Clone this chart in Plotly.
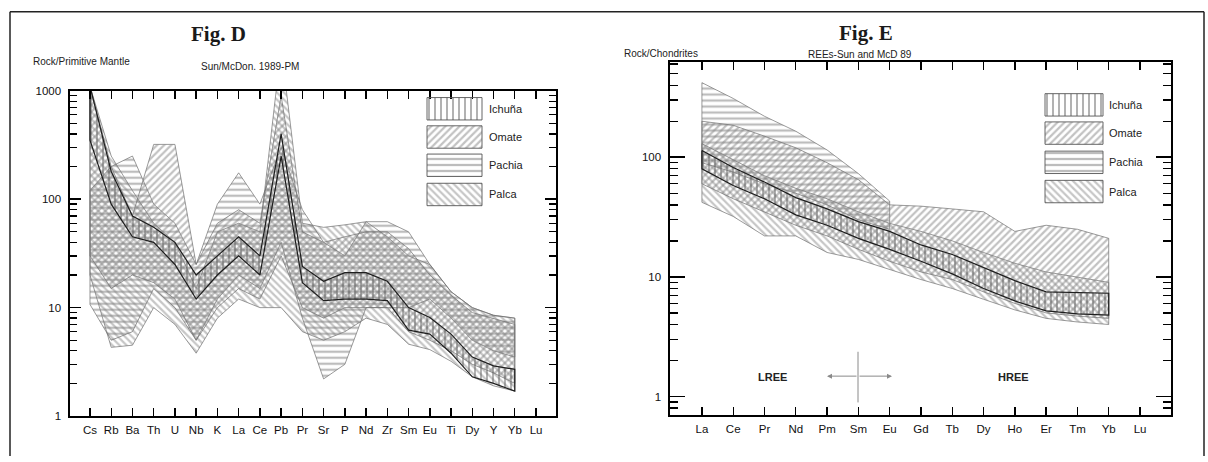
import plotly.graph_objects as go

W, H = 1208, 462

# ---------------- Fig D data: Rock / Primitive Mantle (Sun & McDonough 1989) ----------------
spider_elements = ["Cs", "Rb", "Ba", "Th", "U", "Nb", "K", "La", "Ce", "Pb", "Pr",
                   "Sr", "P", "Nd", "Zr", "Sm", "Eu", "Ti", "Dy", "Y", "Yb", "Lu"]

ichuna_d_low = [350, 90, 45, 40, 25, 12, 20, 30, 20, 250, 17, 11.6, 12, 12, 11.6, 6.2, 5.7, 3.8, 2.3, 2.0, 1.7, None]
ichuna_d_high = [1100, 180, 70, 55, 40, 20, 30, 45, 30, 400, 24, 17.5, 21, 21, 17.5, 10, 8.1, 5.7, 3.5, 2.9, 2.7, None]

omate_d_low = [30, 15, 20, 17, 12, 5, 10, 15, 12, 30, 10, 8, 10, 10, 10, 6, 5, 4, 3, 2.5, 2.0, None]
omate_d_high = [1100, 200, 70, 320, 320, 25, 60, 80, 60, 900, 50, 40, 45, 50, 50, 35, 20, 13, 9, 8, 7, None]

pachia_d_low = [10.7, 5, 6, 15, 10, 5, 12, 20, 15, 40, 8, 2.2, 3, 10, 10, 10, 12, 8, 5, 4, 3.5, None]
pachia_d_high = [120, 200, 250, 90, 60, 25, 90, 175, 90, 300, 80, 40, 30, 62, 62, 50, 25, 14, 10, 8.5, 8, None]

palca_d_low = [20, 4.3, 4.5, 10, 7, 3.8, 8, 12, 10, 10, 6, 5, 6, 8, 7, 4.6, 4.1, 3.2, 2.3, 1.9, 1.7, None]
palca_d_high = [1100, 250, 120, 60, 40, 15, 50, 60, 50, 2500, 60, 55, 58, 62, 45, 30, 25, 14, 10, 8.5, 8, None]

d_ticks = [1, 10, 100, 1000]

# ---------------- Fig E data: Rock / Chondrites (REE, Sun & McD 89) ----------------
ree_elements = ["La", "Ce", "Pr", "Nd", "Pm", "Sm", "Eu", "Gd", "Tb", "Dy", "Ho", "Er", "Tm", "Yb", "Lu"]

ichuna_e_low = [80, 58, 45, 33, 27, 21, 17, 13.5, 10.6, 8.0, 6.3, 5.2, 4.9, 4.8, None]
ichuna_e_high = [114, 82, 62, 46, 37, 29, 24, 18.5, 15.4, 12, 9.3, 7.5, 7.4, 7.3, None]

omate_e_low = [60, 45, 35, 27, 22, 17, 13.5, 11, 9.5, 7.5, 6, 5, 4.7, 4.5, None]
omate_e_high = [200, 185, 150, 120, 90, 65, 40, 39, 37, 35, 24, 27, 25, 21, None]

pachia_e_low = [90, 75, 60, 50, 40, 30, 25, None, None, None, None, None, None, None, None]
pachia_e_high = [420, 310, 220, 165, 115, 73, 43, None, None, None, None, None, None, None, None]

palca_e_low = [42, 32, 22, 22, 16, 14, 11.5, 9.5, 8, 6.5, 5.3, 4.5, 4.2, 4.0, None]
palca_e_high = [130, 95, 70, 55, 45, 35, 28, 24, 20, 16, 13, 11, 10, 9, None]

e_ticks = [1, 10, 100]

groups = ["Ichuña", "Omate", "Pachia", "Palca"]

# ---------------- styles ----------------
FONT = "Liberation Sans, Arial, Helvetica, sans-serif"
SERIF = "Liberation Serif, Times New Roman, serif"
STYLE = {
    "Ichuña": dict(shape="|", fg="#666666", size=6, sol=0.34, line="#1e1e1e", lw=1.2),
    "Omate": dict(shape="/", fg="#858585", size=5, sol=0.45, line="#707070", lw=0.7),
    "Pachia": dict(shape="-", fg="#7c7c7c", size=6, sol=0.38, line="#707070", lw=0.7),
    "Palca": dict(shape="\\", fg="#8e8e8e", size=5, sol=0.45, line="#707070", lw=0.7),
}


def px(x):
    return x / W


def py(y):
    return 1 - y / H


def band(xidx, low, high, name, xa, ya):
    pts = [(i, lo, hi) for i, lo, hi in zip(xidx, low, high) if lo is not None and hi is not None]
    xs = [p[0] for p in pts] + [p[0] for p in reversed(pts)] + [pts[0][0]]
    ys = [p[2] for p in pts] + [p[1] for p in reversed(pts)] + [pts[0][2]]
    s = STYLE[name]
    return go.Scatter(
        x=xs, y=ys, mode="lines", fill="toself", xaxis=xa, yaxis=ya,
        fillcolor="rgba(0,0,0,0)",
        fillpattern=dict(shape=s["shape"], fgcolor=s["fg"], bgcolor="rgba(0,0,0,0)",
                         size=s["size"], solidity=s["sol"], fillmode="overlay"),
        line=dict(color=s["line"], width=s["lw"]),
        showlegend=False, hoverinfo="skip", name=name,
    )


fig = go.Figure()

xd = list(range(len(spider_elements)))
xe = list(range(len(ree_elements)))

d_bands = {"Palca": (palca_d_low, palca_d_high), "Pachia": (pachia_d_low, pachia_d_high),
           "Omate": (omate_d_low, omate_d_high), "Ichuña": (ichuna_d_low, ichuna_d_high)}
e_bands = {"Palca": (palca_e_low, palca_e_high), "Pachia": (pachia_e_low, pachia_e_high),
           "Omate": (omate_e_low, omate_e_high), "Ichuña": (ichuna_e_low, ichuna_e_high)}

for g, (lo, hi) in d_bands.items():
    fig.add_trace(band(xd, lo, hi, g, "x", "y"))
for g, (lo, hi) in e_bands.items():
    fig.add_trace(band(xe, lo, hi, g, "x2", "y2"))

# ---------------- legend swatches (pixel-space overlay axis) ----------------
legend_layout = {
    "D": dict(x0=427, x1=482, tops=[94, 123, 152, 182], h=23, tx=487),
    "E": dict(x0=1045, x1=1103, tops=[90, 119, 149, 179], h=23, tx=1107),
}
annotations = []
for key, L in legend_layout.items():
    for g, top in zip(groups, L["tops"]):
        s = STYLE[g]
        fig.add_trace(go.Scatter(
            x=[L["x0"], L["x1"], L["x1"], L["x0"], L["x0"]],
            y=[top, top, top + L["h"], top + L["h"], top],
            mode="lines", fill="toself", xaxis="x3", yaxis="y3",
            fillcolor="rgba(0,0,0,0)",
            fillpattern=dict(shape=s["shape"], fgcolor=s["fg"], bgcolor="rgba(0,0,0,0)",
                             size=s["size"], solidity=s["sol"], fillmode="overlay"),
            line=dict(color="#555555", width=0.9),
            showlegend=False, hoverinfo="skip"))
        annotations.append(dict(x=px(L["tx"]), y=py(top + L["h"] / 2), xref="paper", yref="paper",
                                text=g, showarrow=False, xanchor="left", yanchor="middle",
                                font=dict(family=FONT, size=11, color="#222")))

# ---------------- titles and labels ----------------
texts = [
    ("Fig. D", 218, 29, "center", dict(family=SERIF, size=21, color="#1a1a1a"), True),
    ("Rock/Primitive Mantle", 31, 57, "left", dict(family=FONT, size=10, color="#222"), False),
    ("Sun/McDon. 1989-PM", 250, 62, "center", dict(family=FONT, size=10, color="#222"), False),
    ("Fig. E", 866, 28, "center", dict(family=SERIF, size=21, color="#1a1a1a"), True),
    ("Rock/Chondrites", 622, 49, "left", dict(family=FONT, size=10, color="#222"), False),
    ("REEs-Sun and McD 89", 860, 50, "center", dict(family=FONT, size=10, color="#222"), False),
    ("LREE", 772, 381, "center", dict(family=FONT, size=11, color="#222"), True),
    ("HREE", 1013, 381, "center", dict(family=FONT, size=11, color="#222"), True),
]
for t, x, y, anc, f, bold in texts:
    annotations.append(dict(x=px(x), y=py(y), xref="paper", yref="paper",
                            text=f"<b>{t}</b>" if bold else t, showarrow=False,
                            xanchor=anc, yanchor="middle", font=f))

# double-headed horizontal arrow (LREE <-> HREE)
for xend, off in [(827, 31), (892, -34)]:
    annotations.append(dict(x=px(xend), y=py(380), xref="paper", yref="paper", text="",
                            showarrow=True, ax=off, ay=0, arrowhead=2, arrowsize=1,
                            arrowwidth=1, arrowcolor="#8a8a8a"))

shapes = [
    dict(type="line", xref="paper", yref="paper", x0=px(858), x1=px(858), y0=py(355), y1=py(407),
         line=dict(color="#8a8a8a", width=1)),
    # outer frame
    dict(type="line", xref="paper", yref="paper", x0=px(10), x1=px(10), y0=py(6), y1=0,
         line=dict(color="#222", width=1.5)),
    dict(type="line", xref="paper", yref="paper", x0=px(10), x1=px(1204), y0=py(6), y1=py(6),
         line=dict(color="#222", width=1.5)),
    dict(type="line", xref="paper", yref="paper", x0=px(1204), x1=px(1204), y0=py(6), y1=0,
         line=dict(color="#222", width=1.5)),
]


def minor_vals(decades, lo=None, hi=None):
    vals = []
    for d in decades:
        for m in range(2, 10):
            v = m * d
            if (lo is None or v > lo) and (hi is None or v < hi):
                vals.append(v)
    return vals


axis_common = dict(showline=True, linewidth=1.6, linecolor="black", mirror="ticks",
                   showgrid=False, zeroline=False, ticks="inside", tickcolor="black",
                   tickfont=dict(family=FONT, size=11.5, color="#111"))

fig.update_layout(
    width=W, height=H, margin=dict(l=0, r=0, t=0, b=0),
    paper_bgcolor="white", plot_bgcolor="rgba(0,0,0,0)",
    showlegend=False,
    xaxis=dict(domain=[px(70), px(556)], range=[-0.94, 21.94], anchor="y",
               tickvals=xd, ticktext=spider_elements, ticklen=8, tickwidth=1.4,
               ticklabelstandoff=3, **axis_common),
    yaxis=dict(domain=[py(421), py(87)], type="log", range=[0, 3], anchor="x",
               tickvals=d_ticks, ticktext=[str(v) for v in d_ticks], ticklen=11, tickwidth=1.5,
               ticklabelstandoff=5,
               minor=dict(tickvals=minor_vals([1, 10, 100]), ticks="inside", ticklen=7,
                          tickwidth=1.3, tickcolor="black"),
               **axis_common),
    xaxis2=dict(domain=[px(670), px(1171)], range=[-1.02, 14.99], anchor="y2",
                tickvals=xe, ticktext=ree_elements, ticklen=8, tickwidth=1.4,
                ticklabelstandoff=3, **axis_common),
    yaxis2=dict(domain=[py(420), py(57)], type="log", range=[-0.155, 2.80], anchor="x2",
                tickvals=e_ticks, ticktext=[str(v) for v in e_ticks], ticklen=15, tickwidth=1.5,
                ticklabelstandoff=5,
                minor=dict(tickvals=[0.8, 0.9] + minor_vals([1, 10, 100], hi=640), ticks="inside",
                           ticklen=8, tickwidth=1.3, tickcolor="black"),
                **axis_common),
    xaxis3=dict(domain=[0, 1], range=[0, W], visible=False, anchor="y3", fixedrange=True),
    yaxis3=dict(domain=[0, 1], range=[H, 0], visible=False, anchor="x3", fixedrange=True),
    annotations=annotations,
    shapes=shapes,
)

fig.write_html("out.html",
               config={"displayModeBar": False, "staticPlot": True},
               post_script="document.body.style.margin='0px';document.body.style.overflow='hidden';")
